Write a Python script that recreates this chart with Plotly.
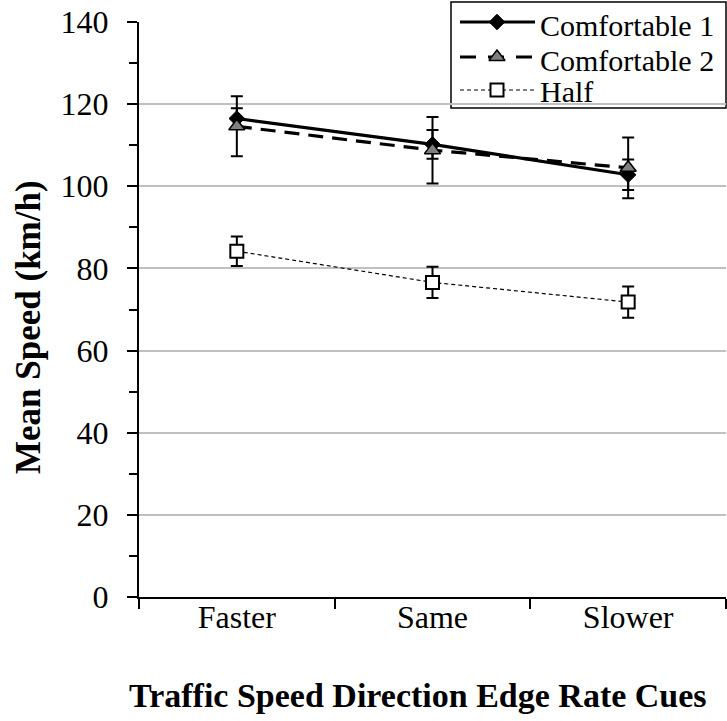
import plotly.graph_objects as go

# ---- data -------------------------------------------------------------
categories = ["Faster", "Same", "Slower"]

comfortable1 = [116.5, 110.2, 102.8]
comfortable1_err = [2.5, 3.5, 3.7]

comfortable2 = [114.6, 108.8, 104.5]
comfortable2_err = [7.3, 8.1, 7.4]

half = [84.2, 76.6, 71.8]
half_err = [3.6, 3.8, 3.8]

y_ticks = [0, 20, 40, 60, 80, 100, 120, 140]
series_names = ["Comfortable 1", "Comfortable 2", "Half"]

# ---- layout constants (pixels) ---------------------------------------
W, H = 727, 721
ML, MR, MT, MB = 139, 1, 22, 124
PW, PH = W - ML - MR, H - MT - MB

FONT = "Liberation Serif"


def px_x(px):
    return (px - ML) / PW


def px_y(py):
    return (H - MB - py) / PH


fig = go.Figure()

err_style = dict(type="data", thickness=2, width=6, color="black", visible=True)

line_half = dict(color="black", width=1.2, dash="4px,3px")
line_c1 = dict(color="black", width=3.2)
line_c2 = dict(color="black", width=3.2, dash="15px,9px")
mark_half = dict(symbol="square", size=13, color="white", line=dict(color="black", width=2))
mark_c1 = dict(symbol="diamond", size=12, color="black", line=dict(color="black", width=1))
mark_c2 = dict(symbol="triangle-up", size=14, color="#808080", line=dict(color="black", width=1.5))

fig.add_trace(go.Scatter(
    x=categories, y=half, name=series_names[2], mode="lines+markers",
    line=line_half, marker=mark_half,
    error_y=dict(array=half_err, **err_style),
))
fig.add_trace(go.Scatter(
    x=categories, y=comfortable1, name=series_names[0], mode="lines+markers",
    line=line_c1, marker=mark_c1,
    error_y=dict(array=comfortable1_err, **err_style),
))
fig.add_trace(go.Scatter(
    x=categories, y=comfortable2, name=series_names[1], mode="lines+markers",
    line=line_c2, marker=mark_c2,
    error_y=dict(array=comfortable2_err, **err_style),
))

# ---- boxed legend in the top-right corner -----------------------------
LEG_LEFT, LEG_TOP, LEG_RIGHT, LEG_BOTTOM = 451, 2, 726, 108
leg_rows = [22, 57, 90]
leg_text_y = [26, 61, 92]
sample_x0, sample_x1, sample_xm, text_x = 460, 535, 497, 538

fig.add_shape(type="rect", xref="paper", yref="paper", layer="between",
              x0=px_x(LEG_LEFT), x1=px_x(LEG_RIGHT),
              y0=px_y(LEG_BOTTOM), y1=px_y(LEG_TOP),
              fillcolor="white", line=dict(color="black", width=1.5))

leg_lines = [line_c1, dict(line_c2, dash="16px,12px"), line_half]
leg_marks = [mark_c1, mark_c2, mark_half]
for name, ry, ty, ln, mk in zip(series_names, leg_rows, leg_text_y, leg_lines, leg_marks):
    fig.add_shape(type="line", xref="paper", yref="paper", layer="between",
                  x0=px_x(sample_x0), x1=px_x(sample_x1),
                  y0=px_y(ry), y1=px_y(ry), line=ln)
    fig.add_trace(go.Scatter(x=[sample_xm], y=[ry], xaxis="x2", yaxis="y2",
                             mode="markers", marker=mk, showlegend=False,
                             hoverinfo="skip", cliponaxis=False))
    fig.add_annotation(x=px_x(text_x), y=px_y(ty), xref="paper", yref="paper", text=name,
                       showarrow=False, xanchor="left", yanchor="middle",
                       font=dict(family=FONT, size=30, color="black"))

# ---- axis titles -----------------------------------------------------
fig.add_annotation(x=px_x(418), y=px_y(695), xref="paper", yref="paper",
                   text="<b>Traffic Speed Direction Edge Rate Cues</b>",
                   showarrow=False, xanchor="center", yanchor="middle",
                   font=dict(family=FONT, size=34, color="black"))
fig.add_annotation(x=px_x(28), y=px_y(327), xref="paper", yref="paper",
                   text="<b>Mean Speed (km/h)</b>", textangle=-90,
                   showarrow=False, xanchor="center", yanchor="middle",
                   font=dict(family=FONT, size=35, color="black"))

fig.update_layout(
    width=W, height=H,
    margin=dict(l=ML, r=MR, t=MT, b=MB, pad=0),
    paper_bgcolor="white", plot_bgcolor="white",
    showlegend=False,
    font=dict(family=FONT, size=30, color="black"),
    xaxis=dict(
        type="category", range=[-0.5, 2.5], tickson="boundaries",
        ticks="outside", ticklen=10, tickwidth=2, tickcolor="black",
        showline=True, linecolor="black", linewidth=2,
        showgrid=False, zeroline=False, ticklabelstandoff=-9,
        tickfont=dict(family=FONT, size=32, color="black"),
    ),
    yaxis=dict(
        range=[0, 140], tickvals=y_ticks,
        ticks="outside", ticklen=10, tickwidth=2, tickcolor="black",
        minor=dict(dtick=10, ticks="outside", ticklen=8, tickwidth=2,
                   tickcolor="black", showgrid=False),
        showline=True, linecolor="black", linewidth=2,
        showgrid=True, gridcolor="#c0c0c0", gridwidth=1.5,
        zeroline=False, ticklabelstandoff=12,
        tickfont=dict(family=FONT, size=32, color="black"),
    ),
    xaxis2=dict(overlaying="x", range=[ML, ML + PW], visible=False, fixedrange=True),
    yaxis2=dict(overlaying="y", range=[H - MB, MT], visible=False, fixedrange=True),
)

fig.write_html("out.html")
